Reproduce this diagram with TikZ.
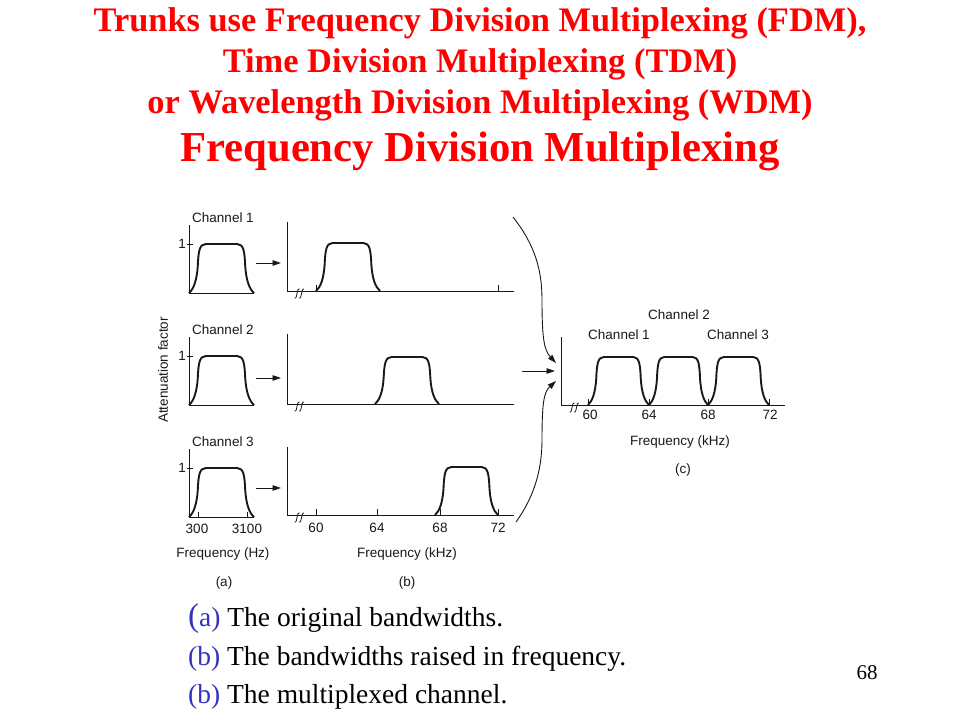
\documentclass[tikz,border=0pt]{standalone}
\usepackage{fontspec}
\setmainfont{Liberation Serif}
\newfontfamily\diafont{Liberation Sans}
\usetikzlibrary{arrows.meta,calc}
\definecolor{titlered}{RGB}{255,0,0}
\definecolor{capblue}{RGB}{51,51,190}
\definecolor{ink}{RGB}{25,25,25}
\tikzset{
 axisln/.style={draw=ink, line width=0.9pt},
 pulseln/.style={draw=ink, line width=1.9pt, line join=round},
 tickln/.style={draw=ink, line width=0.8pt},
 lbl/.style={font=\diafont\fontsize{13.5}{15}\selectfont, text=ink, inner sep=0pt},
 arr/.style={draw=ink, line width=0.9pt, -{Triangle[length=8.5pt,width=5.5pt]}},
 titl/.style={font=\fontsize{34.4}{40}\selectfont\bfseries, text=titlered, inner sep=0pt, anchor=base},
 captxt/.style={font=\fontsize{27.5}{30}\selectfont, inner sep=0pt, anchor=base west},
 brk/.style={draw=ink, line width=0.8pt},
}
% pulse: x0, x1, base y, top y
\newcommand\fdmpulse[4]{%
 \pgfmathsetmacro\fdmpw{#2-#1}%
 \pgfmathsetmacro\fdmph{#4-#3}%
 \draw[pulseln] (#1,#3)
   .. controls ({#1+0.07*\fdmpw},{#3+0.08*\fdmph}) and ({#1+0.12*\fdmpw},{#3+0.25*\fdmph}) .. ({#1+0.135*\fdmpw},{#3+0.55*\fdmph})
   .. controls ({#1+0.145*\fdmpw},{#3+0.85*\fdmph}) and ({#1+0.16*\fdmpw},#4) .. ({#1+0.26*\fdmpw},#4)
   -- ({#2-0.26*\fdmpw},#4)
   .. controls ({#2-0.16*\fdmpw},#4) and ({#2-0.145*\fdmpw},{#3+0.85*\fdmph}) .. ({#2-0.135*\fdmpw},{#3+0.55*\fdmph})
   .. controls ({#2-0.12*\fdmpw},{#3+0.25*\fdmph}) and ({#2-0.07*\fdmpw},{#3+0.08*\fdmph}) .. (#2,#3);}
% one integral-like squiggle: x, base y
\newcommand\fdmsq[2]{%
 \draw[brk] (#1-2.5,#2+7) .. controls (#1-0.5,#2+8) and (#1-0.5,#2+4) .. (#1,#2+2.5)
   .. controls (#1+0.5,#2+1) and (#1+0.5,#2-2.5) .. (#1+2.5,#2-2);}
% break mark: x, base y
\newcommand\fdmbreak[2]{\fdmsq{#1}{#2}\fdmsq{#1+4.5}{#2}}
\begin{document}
\begin{tikzpicture}[x=1pt,y=-1pt]
\useasboundingbox[fill=white] (0,0) rectangle (960,720);
% ---------- title ----------
\node[titl] (t1) at (480,31) {Trunks use Frequency Division Multiplexing (FDM),};
\node[titl] (t2) at (480,72) {Time Division Multiplexing (TDM)};
\node[titl] (t3) at (480,113) {or Wavelength Division Multiplexing (WDM)};
\node[titl, font=\fontsize{42.7}{48}\selectfont\bfseries] (t4) at (480,161) {Frequency Division Multiplexing};
% ---------- panel (a) ----------
\node[lbl, rotate=90] (att) at (163,370) {Attenuation factor};
% row 1
\draw[axisln] (189,225) -- (189,293) -- (254,293);
\draw[tickln] (187,244) -- (193,244);
\node[lbl, anchor=east] (a1one) at (186,244) {1};
\node[lbl] (a1ch) at (223,218) {Channel 1};
\fdmpulse{189}{254}{293}{244}
% row 2
\draw[axisln] (189,337) -- (189,405) -- (254,405);
\draw[tickln] (187,356) -- (193,356);
\node[lbl, anchor=east] (a2one) at (186,356) {1};
\node[lbl] (a2ch) at (223,330) {Channel 2};
\fdmpulse{189}{254}{405}{356}
% row 3
\draw[axisln] (189,449) -- (189,517) -- (254,517);
\draw[tickln] (187,468) -- (193,468);
\draw[tickln] (198,517) -- (198,512);
\draw[tickln] (247,517) -- (247,512);
\node[lbl, anchor=east] (a3one) at (186,468) {1};
\node[lbl] (a3ch) at (223,442) {Channel 3};
\fdmpulse{189}{254}{517}{468}
\node[lbl] (l300) at (197,529) {300};
\node[lbl] (l3100) at (247,529) {3100};
\node[lbl] (afreq) at (223,554) {Frequency (Hz)};
\node[lbl] (acap) at (224,583) {(a)};
% ---------- arrows a -> b ----------
\coordinate (r1s) at (256,263); \coordinate (r1e) at (281,263);
\coordinate (r2s) at (256,378); \coordinate (r2e) at (281,378);
\coordinate (r3s) at (256,488); \coordinate (r3e) at (281,488);
\draw[arr] (r1s) -- (r1e);
\draw[arr] (r2s) -- (r2e);
\draw[arr] (r3s) -- (r3e);
% ---------- panel (b) ----------
% row 1
\draw[axisln] (287,222) -- (287,291) -- (514,291);
\fdmbreak{297}{291}
\draw[tickln] (316,291) -- (316,285);
\draw[tickln] (498,291) -- (498,285);
\fdmpulse{316}{380}{291}{243}
% row 2
\draw[axisln] (287,334) -- (287,404) -- (514,404);
\fdmbreak{297}{404}
\fdmpulse{375}{439}{404}{357}
% row 3
\draw[axisln] (287,447) -- (287,515) -- (514,515);
\fdmbreak{297}{515}
\draw[tickln] (316,515) -- (316,509);
\draw[tickln] (377,515) -- (377,509);
\draw[tickln] (440,515) -- (440,509);
\draw[tickln] (498,515) -- (498,509);
\fdmpulse{435}{498}{515}{467}
\node[lbl] (b60) at (316,528) {60};
\node[lbl] (b64) at (377,528) {64};
\node[lbl] (b68) at (440,528) {68};
\node[lbl] (b72) at (498,528) {72};
\node[lbl] (bfreq) at (407,554) {Frequency (kHz)};
\node[lbl] (bcap) at (407,583) {(b)};
% ---------- arrows b -> c ----------
\coordinate (ctop) at (513,217);
\coordinate (cbot) at (516,522);
\coordinate (cmid) at (522,371);
\coordinate (cin1) at (556,363);
\coordinate (cin2) at (555,371);
\coordinate (cin3) at (556,381);
\draw[arr] (ctop) .. controls (535,245) and (542,270) .. (542,300) .. controls (542,338) and (544,350) .. (cin1);
\draw[arr] (cmid) -- (cin2);
\draw[arr] (cbot) .. controls (534,497) and (542,470) .. (542,440) .. controls (542,402) and (544,392) .. (cin3);
% ---------- panel (c) ----------
\draw[axisln] (561,337) -- (561,405) -- (785,405);
\fdmbreak{572}{405}
\draw[tickln] (588,405) -- (588,399);
\draw[tickln] (649,405) -- (649,399);
\draw[tickln] (708,405) -- (708,399);
\draw[tickln] (769,405) -- (769,399);
\fdmpulse{588}{649}{405}{357}
\fdmpulse{649}{708}{405}{357}
\fdmpulse{708}{769}{405}{357}
\node[lbl] (c60) at (590,415) {60};
\node[lbl] (c64) at (649,415) {64};
\node[lbl] (c68) at (708,415) {68};
\node[lbl] (c72) at (770,415) {72};
\node[lbl] (cch2) at (679,315) {Channel 2};
\node[lbl] (cch1) at (619,335) {Channel 1};
\node[lbl] (cch3) at (738,335) {Channel 3};
\node[lbl] (cfreq) at (680,442) {Frequency (kHz)};
\node[lbl] (ccap) at (683,470) {(c)};
% ---------- captions ----------
\node[captxt] (cap1) at (188,626) {\textcolor{capblue}{{\fontsize{33}{33}\selectfont(}a)} The original bandwidths.};
\node[captxt] (cap2) at (188,665) {\textcolor{capblue}{(b)} The bandwidths raised in frequency.};
\node[captxt] (cap3) at (188,703) {\textcolor{capblue}{(b)} The multiplexed channel.};
\node[font=\fontsize{21}{24}\selectfont, inner sep=0pt, anchor=base] (pg) at (867,679) {68};
\end{tikzpicture}
\end{document}
